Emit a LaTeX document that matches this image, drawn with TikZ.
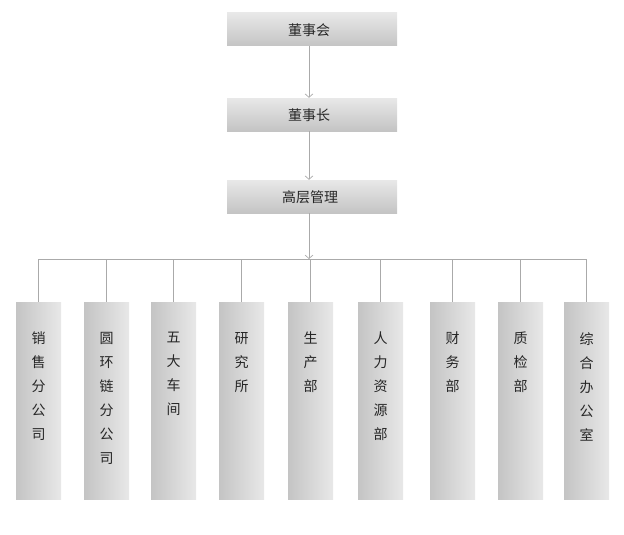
\documentclass[tikz,border=0pt]{standalone}
\usepackage{fontspec}
\newfontfamily\cjk{Noto Sans CJK SC}
\usetikzlibrary{arrows.meta}
\definecolor{linegray}{HTML}{AAAAAA}
\definecolor{boxlight}{HTML}{E8E8E8}
\definecolor{boxdark}{HTML}{C4C4C4}
\tikzset{
  topbox/.style={rectangle, minimum width=170pt, minimum height=33pt, inner sep=0pt,
    top color=boxlight, bottom color=boxdark, draw=none},
  toptext/.style={inner sep=0pt, font=\cjk\fontsize{14}{16}\selectfont, text=black!85},
  colbox/.style={rectangle, minimum width=45pt, minimum height=197pt, inner sep=0pt,
    left color=boxdark, right color=boxlight, draw=none},
  coltext/.style={anchor=north, inner sep=0pt, align=center,
    font=\cjk\fontsize{14}{24}\selectfont, text=black!85},
  conn/.style={draw=linegray, line width=0.8pt},
  arr/.style={conn, -{Straight Barb[length=3.5pt, width=8pt, line width=0.7pt]}}
}
\begin{document}
\begin{tikzpicture}[x=1pt, y=-1pt]
\useasboundingbox (0,0) rectangle (624,535);
\node[topbox] (a) at (312,29.5) {};
\node[toptext] (ta) at (309,30) {董事会};
\node[topbox] (b) at (312,114.5) {};
\node[toptext] (tb) at (309,115) {董事长};
\node[topbox] (c) at (312,196.5) {};
\node[toptext] (tc) at (310,197) {高层管理};
\coordinate (bar) at (309,259);
\foreach \i/\x/\t in {1/38.5/{销\\售\\分\\公\\司},
                      2/106.5/{圆\\环\\链\\分\\公\\司},
                      3/173.5/{五\\大\\车\\间},
                      4/241.5/{研\\究\\所},
                      5/310.5/{生\\产\\部},
                      6/380.5/{人\\力\\资\\源\\部},
                      7/452.5/{财\\务\\部},
                      8/520.5/{质\\检\\部},
                      9/586.5/{综\\合\\办\\公\\室}} {
  \node[colbox] (b\i) at (\x,400.5) {};
  \node[coltext] (t\i) at (\x,332) {\t};
  \draw[conn] (b\i.north |- bar) -- (b\i.north);
}
\draw[arr] (a.south -| bar) -- (b.north -| bar);
\draw[arr] (b.south -| bar) -- (c.north -| bar);
\draw[arr] (c.south -| bar) -- (bar);
\draw[conn] (b1.north |- bar) -- (b9.north |- bar);
\end{tikzpicture}
\end{document}
